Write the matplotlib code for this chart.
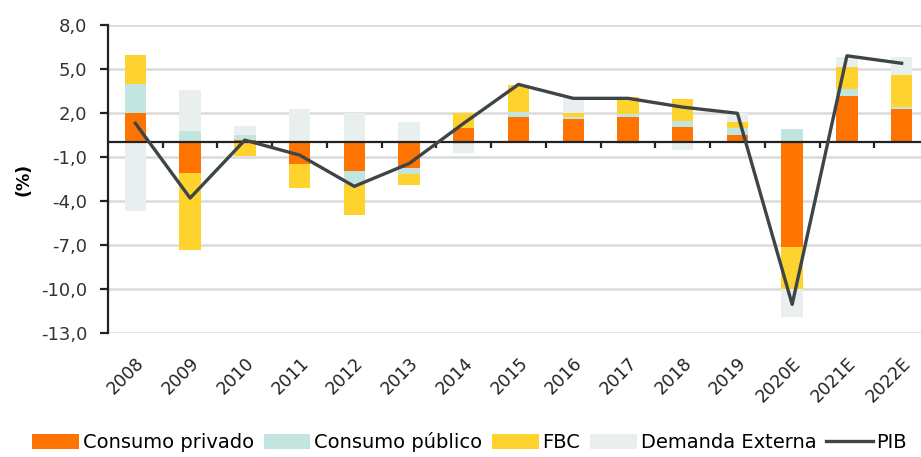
import matplotlib.pyplot as plt
import numpy as np

years = ["2008", "2009", "2010", "2011", "2012", "2013", "2014", "2015",
         "2016", "2017", "2018", "2019", "2020E", "2021E", "2022E"]

consumo_privado = [2.0, -2.1, 0.15, -1.5, -1.93, -1.77, 0.95, 1.75,
                   1.57, 1.75, 1.02, 0.5, -7.16, 3.13, 2.27]
consumo_publico = [2.0, 0.8, 0.35, 0.0, -0.91, -0.41, -0.1, 0.34,
                   0.18, 0.18, 0.43, 0.45, 0.88, 0.53, 0.16]
fbc = [1.95, -5.24, -0.95, -1.64, -2.14, -0.73, 1.07, 1.81,
       0.27, 1.18, 1.5, 0.45, -2.82, 1.5, 2.18]
demanda_externa = [-4.65, 2.77, 0.6, 2.27, 2.02, 1.4, -0.64, 0.0,
                   0.98, -0.14, -0.52, 0.58, -1.91, 0.68, 1.23]
pib = [1.3, -3.8, 0.15, -0.87, -3.0, -1.45, 1.3, 3.95,
       3.0, 3.0, 2.4, 1.98, -11.05, 5.9, 5.39]

series = [
    ("Consumo privado", consumo_privado, "#FF7300"),
    ("Consumo público", consumo_publico, "#C2E5E0"),
    ("FBC", fbc, "#FFD32E"),
    ("Demanda Externa", demanda_externa, "#E9EFEF"),
]

fig = plt.figure(figsize=(9.21, 4.57), dpi=100)
ax = fig.add_axes([108 / 921, 1 - 333 / 457, 1 - 108 / 921, 308 / 457])

x = np.arange(len(years))
width = 0.39

# stacked bars: positives and negatives stacked separately
pos_bottom = np.zeros(len(years))
neg_bottom = np.zeros(len(years))
handles = []
for label, vals, color in series:
    v = np.array(vals)
    bottom = np.where(v >= 0, pos_bottom, neg_bottom)
    h = ax.bar(x, v, width, bottom=bottom, color=color, label=label, zorder=2,
               linewidth=0)
    handles.append(h)
    pos_bottom += np.where(v >= 0, v, 0)
    neg_bottom += np.where(v < 0, v, 0)

ax.axhline(0, color="#222222", linewidth=1.6, zorder=3)
line, = ax.plot(x, pib, color="#3D4549", linewidth=2.4, label="PIB", zorder=4)
handles.append(line)

# small ticks on the zero line between categories
for b in np.arange(len(years) - 1) + 0.5:
    ax.plot([b, b], [0, -0.4], color="#222222", linewidth=1.6, zorder=3,
            solid_capstyle="butt")

ax.set_ylim(-13, 8)
ax.set_xlim(-0.5, len(years) - 0.5 - 8 / 54.75)
yt = np.arange(-13, 9, 3)
ax.set_yticks(yt)
ax.set_yticklabels([f"{v:.1f}".replace(".", ",") for v in yt], fontsize=13,
                   color="#333333")
ax.yaxis.grid(True, color="#DADADA", linewidth=1.8, zorder=0)
ax.set_axisbelow(True)

ax.set_xticks(x)
ax.set_xticklabels(years, rotation=45, ha="right", rotation_mode="anchor",
                   fontsize=12.5, color="#222222")
ax.tick_params(axis="x", length=0, pad=15)
ax.tick_params(axis="y", length=6, width=1.6, color="#222222", direction="out",
               pad=9)

for s in ["top", "right", "bottom"]:
    ax.spines[s].set_visible(False)
ax.spines["left"].set_linewidth(1.6)
ax.spines["left"].set_color("#222222")

ax.set_ylabel("(%)", fontsize=12.5, fontweight="bold", labelpad=6)

fig.legend(handles, [h.get_label() for h in handles], loc="lower center",
           bbox_to_anchor=(0.51, -0.028), ncol=5, frameon=False, fontsize=14,
           handlelength=2.4, handleheight=0.75, handletextpad=0.2,
           columnspacing=0.5)

plt.savefig("out.png", dpi=100)
